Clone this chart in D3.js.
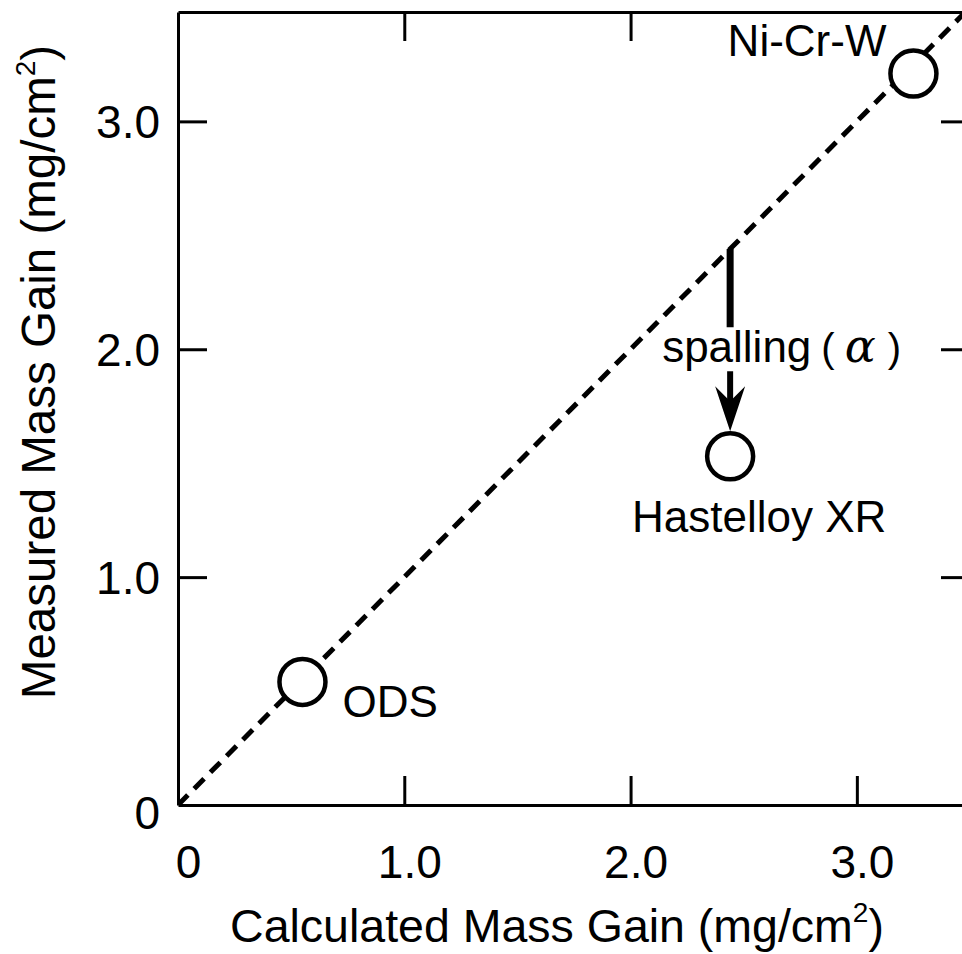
<!DOCTYPE html>
<html>
<head>
<meta charset="utf-8">
<script src="https://cdn.jsdelivr.net/npm/d3@7"></script>
<style>
  body { margin: 0; background: #fff; }
  text { font-family: "Liberation Sans", Arial, Helvetica, sans-serif; fill: #000; }
</style>
</head>
<body>
<div id="canvas"></div>
<script>
// data
let alloys = ['ODS', 'Hastelloy XR', 'Ni-Cr-W'];
let calculated = [0.55, 2.44, 3.25];
let measured = [0.54, 1.53, 3.21];
let tickValues = [0, 1, 2, 3];
let tickLabels = ['0', '1.0', '2.0', '3.0'];

let width = 962, height = 954;
let plotLeft = 178, plotTop = 12, plotBottom = 805, plotRight = 970;

let x = d3.scaleLinear().domain([0, 3.5]).range([plotLeft, plotRight]);
let y = d3.scaleLinear().domain([0, 3.48]).range([plotBottom, plotTop]);

let svg = d3.select('#canvas').append('svg')
  .attr('width', width)
  .attr('height', height);

svg.append('defs').append('clipPath').attr('id', 'plot')
  .append('rect')
  .attr('x', plotLeft).attr('y', plotTop)
  .attr('width', plotRight - plotLeft).attr('height', plotBottom - plotTop);

// 1:1 dashed line
svg.append('line')
  .attr('clip-path', 'url(#plot)')
  .attr('x1', x(0)).attr('y1', y(0))
  .attr('x2', x(3.5)).attr('y2', y(3.5))
  .attr('stroke', '#000')
  .attr('stroke-width', 5)
  .attr('stroke-dasharray', '14,9');

// frame and inward ticks
let tickLen = 29;
function styleAxis(g) {
  g.select('.domain').attr('stroke-width', 3);
  g.selectAll('.tick line').attr('stroke-width', 3);
}

svg.append('g')
  .attr('transform', 'translate(0,' + plotBottom + ')')
  .call(d3.axisBottom(x).tickValues(tickValues).tickSize(-tickLen).tickSizeOuter(0)
    .tickFormat(function(d, i) { return tickLabels[i]; }))
  .call(styleAxis)
  .call(function(g) {
    g.selectAll('.tick text')
      .attr('font-size', 46)
      .attr('y', 0).attr('dy', 73)
      .attr('dx', function(d) { return d === 0 ? 10 : 5; });
  });

svg.append('g')
  .attr('transform', 'translate(0,' + plotTop + ')')
  .call(d3.axisTop(x).tickValues([1, 2]).tickSize(-tickLen).tickSizeOuter(0).tickFormat(''))
  .call(styleAxis);

svg.append('g')
  .attr('transform', 'translate(' + plotLeft + ',0)')
  .call(d3.axisLeft(y).tickValues(tickValues).tickSize(-tickLen).tickSizeOuter(0)
    .tickFormat(function(d, i) { return tickLabels[i]; }))
  .call(styleAxis)
  .call(function(g) {
    g.selectAll('.tick text')
      .attr('font-size', 46)
      .attr('x', -18)
      .attr('dy', function(d) { return d === 0 ? '0.5em' : '0.36em'; });
    g.selectAll('.tick').filter(function(d) { return d === 0; }).select('line').remove();
  });

svg.append('g')
  .attr('transform', 'translate(' + plotRight + ',0)')
  .call(d3.axisRight(y).tickValues([1, 2, 3]).tickSize(-tickLen).tickSizeOuter(0).tickFormat(''))
  .call(styleAxis);

// axis titles
let xTitle = svg.append('text')
  .attr('x', 557).attr('y', 942)
  .attr('text-anchor', 'middle')
  .attr('font-size', 46.5)
  .text('Calculated Mass Gain (mg/cm');
xTitle.append('tspan').attr('font-size', 28).attr('dy', -20).text('2');
xTitle.append('tspan').attr('dy', 20).text(')');

let yTitle = svg.append('text')
  .attr('transform', 'translate(55,' + 372 + ') rotate(-90)')
  .attr('text-anchor', 'middle')
  .attr('font-size', 47.5)
  .text('Measured Mass Gain (mg/cm');
yTitle.append('tspan').attr('font-size', 28).attr('dy', -20).text('2');
yTitle.append('tspan').attr('dy', 20).text(')');

// spalling arrow for Hastelloy XR
let hx = x(calculated[1]);
let r = 23;
let labelY = y(2.0);
svg.append('line')
  .attr('x1', hx).attr('x2', hx)
  .attr('y1', y(calculated[1])).attr('y2', labelY - 22)
  .attr('stroke', '#000').attr('stroke-width', 7);
svg.append('line')
  .attr('x1', hx).attr('x2', hx)
  .attr('y1', labelY + 22).attr('y2', y(measured[1]) - r - 30)
  .attr('stroke', '#000').attr('stroke-width', 6);
let tipY = y(measured[1]) - r - 2;
svg.append('path')
  .attr('d', d3.line()([[hx, tipY], [hx - 15, tipY - 45], [hx, tipY - 30], [hx + 15, tipY - 45]]) + 'Z')
  .attr('fill', '#000');

let spall = svg.append('text')
  .attr('x', hx - 68).attr('y', labelY).attr('dy', '0.3em')
  .attr('font-size', 44)
  .text('spalling');
spall.append('tspan').attr('dx', 10).attr('font-size', 40).text('(');
spall.append('tspan').attr('dx', 10)
  .attr('font-family', '"DejaVu Serif", serif').attr('font-style', 'italic').attr('font-size', 46).text('α');
spall.append('tspan').attr('dx', 12).attr('font-size', 40).text(')');

// points
svg.selectAll('circle')
  .data(alloys)
  .enter()
  .append('circle')
  .attr('cx', function(d, i) { return x(calculated[i]); })
  .attr('cy', function(d, i) { return y(measured[i]); })
  .attr('r', r)
  .attr('fill', '#fff')
  .attr('stroke', '#000')
  .attr('stroke-width', 4.5);

// point labels
let labelOffsets = [[40, 35, 'start'], [29, 76, 'middle'], [-27, -18, 'end']];
svg.selectAll('.plabel')
  .data(alloys)
  .enter()
  .append('text')
  .attr('class', 'plabel')
  .attr('x', function(d, i) { return x(calculated[i]) + labelOffsets[i][0]; })
  .attr('y', function(d, i) { return y(measured[i]) + labelOffsets[i][1]; })
  .attr('text-anchor', function(d, i) { return labelOffsets[i][2]; })
  .attr('font-size', 44)
  .text(function(d) { return d; });
</script>
</body>
</html>
